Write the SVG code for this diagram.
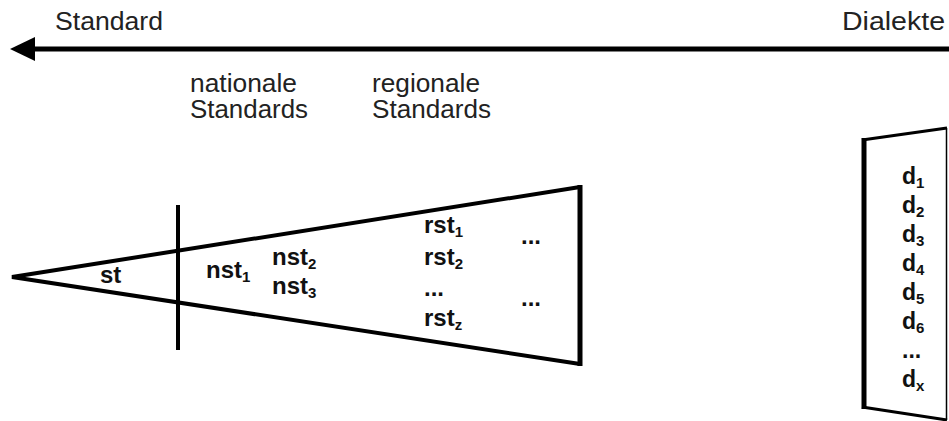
<svg xmlns="http://www.w3.org/2000/svg" width="949" height="421" viewBox="0 0 949 421">
  <style>
    .hdr { font-family: "Liberation Sans", Arial, sans-serif; font-size: 25px; fill: #222; }
    .lbl { font-family: "Liberation Sans", Arial, sans-serif; font-size: 24px; font-weight: bold; fill: #111; }
    .dl { font-family: "Liberation Sans", Arial, sans-serif; font-size: 23px; font-weight: bold; fill: #111; }
    .sub { font-size: 15px; }
    .ln { stroke: #000; fill: none; stroke-linecap: butt; }
  </style>
  <rect width="949" height="421" fill="#fff"/>

  <g id="connectors">
    <line class="ln" x1="32" y1="49" x2="949" y2="49" stroke-width="5"/>
    <polygon points="10,49 35,37 35,61" fill="#000"/>
  </g>

  <g id="header-standard">
    <text class="hdr" x="55" y="30" textLength="108" lengthAdjust="spacingAndGlyphs">Standard</text>
  </g>
  <g id="header-dialekte">
    <text class="hdr" x="842" y="30" textLength="103" lengthAdjust="spacingAndGlyphs">Dialekte</text>
  </g>
  <g id="header-nationale">
    <text class="hdr" x="190" y="92" textLength="107" lengthAdjust="spacingAndGlyphs">nationale</text>
    <text class="hdr" x="190" y="118" textLength="118" lengthAdjust="spacingAndGlyphs">Standards</text>
  </g>
  <g id="header-regionale">
    <text class="hdr" x="372" y="92" textLength="108" lengthAdjust="spacingAndGlyphs">regionale</text>
    <text class="hdr" x="372" y="118" textLength="119" lengthAdjust="spacingAndGlyphs">Standards</text>
  </g>

  <g id="wedge">
    <polyline class="ln" points="580,187 12,277 580,364" stroke-width="4" stroke-linejoin="miter"/>
    <line class="ln" x1="580" y1="185" x2="580" y2="366" stroke-width="5"/>
    <line class="ln" x1="178" y1="205" x2="178" y2="350" stroke-width="4"/>
    <text class="lbl" x="100" y="283">st</text>
    <text class="lbl" x="206" y="278">nst<tspan class="sub" dy="4">1</tspan></text>
    <text class="lbl" x="272" y="265">nst<tspan class="sub" dy="4">2</tspan></text>
    <text class="lbl" x="272" y="294">nst<tspan class="sub" dy="4">3</tspan></text>
    <text class="lbl" x="424" y="233">rst<tspan class="sub" dy="4">1</tspan></text>
    <text class="lbl" x="424" y="265">rst<tspan class="sub" dy="4">2</tspan></text>
    <text class="lbl" x="424" y="296">...</text>
    <text class="lbl" x="424" y="326">rst<tspan class="sub" dy="4">z</tspan></text>
    <text class="lbl" x="521" y="244">...</text>
    <text class="lbl" x="521" y="306">...</text>
  </g>

  <g id="dialect-box">
    <line class="ln" x1="864" y1="138" x2="864" y2="409" stroke-width="5"/>
    <line class="ln" x1="862" y1="140" x2="947" y2="128" stroke-width="3"/>
    <line class="ln" x1="862" y1="407" x2="947" y2="420" stroke-width="3"/>
    <line class="ln" x1="946.5" y1="128" x2="946.5" y2="420" stroke-width="1.5"/>
    <text class="dl" x="902" y="184">d<tspan class="sub" dy="4">1</tspan></text>
    <text class="dl" x="902" y="213">d<tspan class="sub" dy="4">2</tspan></text>
    <text class="dl" x="902" y="242">d<tspan class="sub" dy="4">3</tspan></text>
    <text class="dl" x="902" y="271">d<tspan class="sub" dy="4">4</tspan></text>
    <text class="dl" x="902" y="300">d<tspan class="sub" dy="4">5</tspan></text>
    <text class="dl" x="902" y="329">d<tspan class="sub" dy="4">6</tspan></text>
    <text class="dl" x="902" y="358">...</text>
    <text class="dl" x="902" y="387">d<tspan class="sub" dy="4">x</tspan></text>
  </g>
</svg>
